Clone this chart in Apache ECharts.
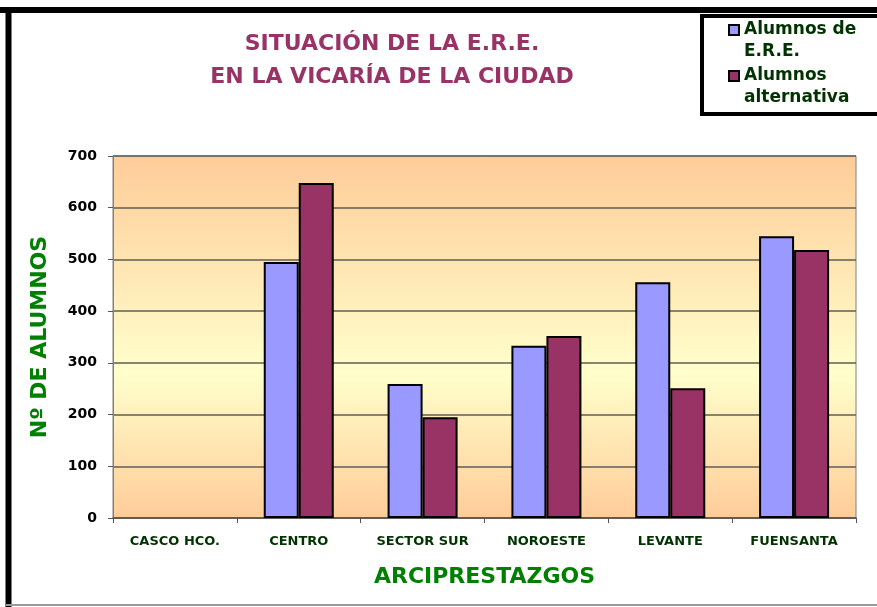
<!DOCTYPE html>
<html>
<head>
<meta charset="utf-8">
<script src="https://cdn.jsdelivr.net/npm/echarts@6/dist/echarts.min.js"></script>
<style>
html, body { margin: 0; padding: 0; background: #fff; }
#chartDom { width: 877px; height: 607px; }
</style>
</head>
<body>
<div id="chartDom"></div>
<script>
// datos
const categorias = ['CASCO HCO.', 'CENTRO', 'SECTOR SUR', 'NOROESTE', 'LEVANTE', 'FUENSANTA']
const alumnosERE = [0, 495, 259, 333, 456, 545]
const alumnosAlternativa = [0, 648, 195, 352, 251, 518]
const nombresSeries = ['Alumnos de\nE.R.E.', 'Alumnos\nalternativa']

const fuente = '"DejaVu Sans", sans-serif'

// las barras a cero no llevan borde (en el original no se ve nada)
function barras (valores) {
  return valores.map(v => v === 0 ? { value: v, itemStyle: { borderWidth: 0 } } : v)
}

const canvasChart = echarts.init(document.getElementById('chartDom'))

const option = {
  animation: false,
  title: {
    text: 'SITUACIÓN DE LA E.R.E.\nEN LA VICARÍA DE LA CIUDAD',
    left: 392,
    top: 28,
    padding: 0,
    textAlign: 'center',
    textStyle: {
      color: '#993366',
      fontFamily: fuente,
      fontWeight: 'bold',
      fontSize: 22,
      lineHeight: 33
    }
  },
  legend: {
    orient: 'vertical',
    left: 702,
    top: 16,
    padding: [2, 80, 4, 26],
    borderColor: '#000',
    borderWidth: 4,
    backgroundColor: '#fff',
    itemWidth: 10,
    itemHeight: 44,
    itemGap: 0,
    icon: 'path://M0,6h10v10h-10zM0,0M0,44',
    textStyle: {
      color: '#003300',
      fontFamily: fuente,
      fontWeight: 'bold',
      fontSize: 17,
      lineHeight: 22
    },
    data: nombresSeries
  },
  grid: {
    left: 113,
    right: 21,
    top: 156,
    bottom: 89,
    show: true,
    borderColor: '#808080',
    borderWidth: 1,
    backgroundColor: new echarts.graphic.LinearGradient(0, 0, 0, 1, [
      { offset: 0, color: '#FFCC99' },
      { offset: 0.6, color: '#FFFFCC' },
      { offset: 1, color: '#FFCC99' }
    ])
  },
  xAxis: {
    type: 'category',
    data: categorias,
    name: 'ARCIPRESTAZGOS',
    nameLocation: 'middle',
    nameGap: 48,
    nameTextStyle: {
      color: '#008000',
      fontFamily: fuente,
      fontWeight: 'bold',
      fontSize: 22
    },
    axisLine: { lineStyle: { color: '#555', width: 1.5 } },
    axisTick: { show: true, length: 5, lineStyle: { color: '#555' } },
    axisLabel: {
      color: '#003300',
      fontFamily: fuente,
      fontWeight: 'bold',
      fontSize: 13,
      margin: 17,
      interval: 0
    }
  },
  yAxis: {
    type: 'value',
    min: 0,
    max: 700,
    interval: 100,
    name: 'Nº DE ALUMNOS',
    nameLocation: 'middle',
    nameGap: 62,
    nameTextStyle: {
      color: '#008000',
      fontFamily: fuente,
      fontWeight: 'bold',
      fontSize: 22
    },
    axisLine: { show: true, lineStyle: { color: '#808080' } },
    axisTick: { show: true, length: 5, lineStyle: { color: '#555' } },
    axisLabel: {
      color: '#000',
      fontFamily: fuente,
      fontWeight: 'bold',
      fontSize: 14,
      margin: 16
    },
    splitLine: { lineStyle: { color: '#5f5f50', width: 1.5 } }
  },
  series: [
    {
      name: nombresSeries[0],
      type: 'bar',
      data: barras(alumnosERE),
      barWidth: 35,
      barGap: '0%',
      itemStyle: { color: '#9999FF', borderColor: '#000', borderWidth: 2 }
    },
    {
      name: nombresSeries[1],
      type: 'bar',
      data: barras(alumnosAlternativa),
      barWidth: 35,
      itemStyle: { color: '#993366', borderColor: '#000', borderWidth: 2 }
    }
  ],
  graphic: [
    // marco del grafico
    { type: 'line', shape: { x1: 0, y1: 10, x2: 877, y2: 10 }, style: { stroke: '#000', lineWidth: 6 }, z: 100 },
    { type: 'line', shape: { x1: 8.5, y1: 7, x2: 8.5, y2: 607 }, style: { stroke: '#000', lineWidth: 6 }, z: 100 },
    { type: 'line', shape: { x1: 6, y1: 605, x2: 877, y2: 605 }, style: { stroke: '#999', lineWidth: 2 }, z: 100 }
  ]
}

canvasChart.setOption(option)
</script>
</body>
</html>
